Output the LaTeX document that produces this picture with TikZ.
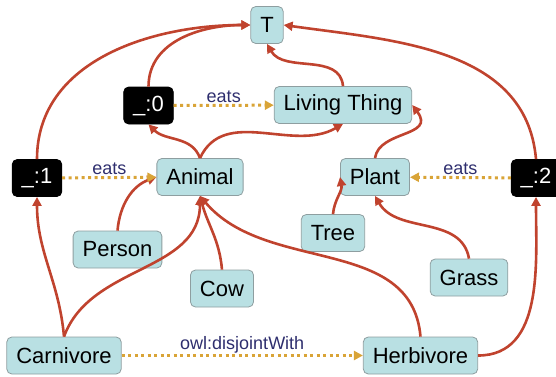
\documentclass[tikz,border=0pt]{standalone}
\usepackage{fontspec}
\setmainfont{Liberation Sans}
\usetikzlibrary{arrows.meta,positioning}

\definecolor{classfill}{HTML}{B9E0E3}
\definecolor{classedge}{HTML}{8E9EA0}
\definecolor{subred}{HTML}{C0432E}
\definecolor{propgold}{HTML}{D9A437}
\definecolor{labelblue}{HTML}{2E2E6E}

\tikzset{
  class/.style={rectangle, rounded corners=5pt, draw=classedge, line width=0.8pt,
    fill=classfill, font=\fontsize{22}{26}\selectfont, minimum height=37pt,
    inner xsep=9.5pt, inner ysep=0pt},
  blank/.style={class, draw=black, fill=black, text=white},
  sub/.style={->, draw=subred, line width=2.6pt},
  prop/.style={->, draw=propgold, line width=3pt, dash pattern=on 3pt off 3.5pt},
  proplabel/.style={font=\fontsize{18}{20}\selectfont, text=labelblue, inner sep=1pt}
}

\begin{document}
\begin{tikzpicture}[x=1pt, y=-1pt, >={Triangle[length=9pt,width=9pt]}, auto]
  \useasboundingbox (0,0) rectangle (556,376);

  % classes and blank nodes
  \node[class] (top) at (267,25) {T};
  \node[blank] (b0) at (148.5,105.5) {\_:0};
  \node[class] (living) at (343,105) {Living Thing};
  \node[blank] (b1) at (37,178) {\_:1};
  \node[class] (animal) at (200,177) {Animal};
  \node[class] (plant) at (375,177) {Plant};
  \node[blank] (b2) at (536,178) {\_:2};
  \node[class] (person) at (117.5,249.5) {Person};
  \node[class] (cow) at (222,288.5) {Cow};
  \node[class] (tree) at (333,233) {Tree};
  \node[class] (grass) at (469,277.5) {Grass};
  \node[class] (carnivore) at (64,355.5) {Carnivore};
  \node[class] (herbivore) at (420.5,355.5) {Herbivore};

  % subclass links
  \draw[sub] (b1.north) to[out=90,in=180] (top.west);
  \draw[sub] (b0.north) to[out=90,in=180] (top.west);
  \draw[sub] (living.north) to[out=95,in=-60] (top.south);
  \draw[sub] (b2.north) to[out=95,in=-8] (top.east);
  \draw[sub] (animal.north) to[out=110,in=-45] (b0.south);
  \draw[sub] (animal.north) to[out=65,in=-150] (living.south);
  \draw[sub] (plant.north) .. controls +(4,-28) and +(24,32) .. (living.east);
  \draw[sub] (person.north) to[out=85,in=-160] (animal.west);
  \draw[sub] (cow.north) to[out=95,in=-75] (animal.south);
  \draw[sub] (carnivore.north) to[out=95,in=-90] (b1.south);
  \draw[sub] (carnivore.north) to[out=70,in=-90] (animal.south);
  \draw[sub] (herbivore.north) to[out=95,in=-50] (animal.south);
  \draw[sub] (herbivore.east) to[out=0,in=-90] (b2.south);
  \draw[sub] (tree.north) to[out=85,in=-80] (plant.west);
  \draw[sub] (grass.north) to[out=100,in=-60] (plant.south);

  % properties
  \draw[prop] (b0) -- node[proplabel, above] {eats} (living);
  \draw[prop] (b1) -- node[proplabel, above] {eats} (animal);
  \draw[prop] (b2) -- node[proplabel, above] {eats} (plant);
  \draw[prop] (carnivore) -- node[proplabel, above] {owl:disjointWith} (herbivore);
\end{tikzpicture}
\end{document}
